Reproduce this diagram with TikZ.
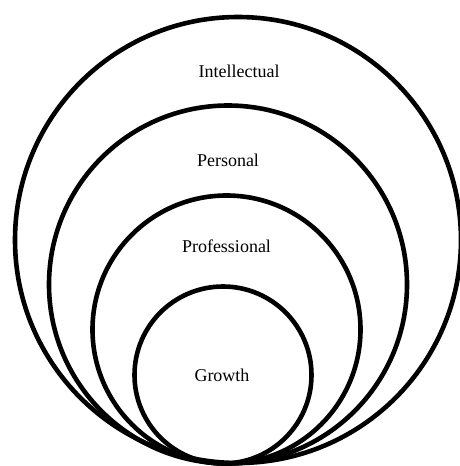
\documentclass[tikz,border=0pt]{standalone}
\usepackage{fontspec}
\setmainfont{Liberation Serif}
\begin{document}
\begin{tikzpicture}[x=1pt,y=-1pt,
  ring/.style={draw=black, circle, line width=4.6pt, inner sep=0pt, outer sep=0pt},
  lbl/.style={anchor=base, inner sep=0pt, font=\fontsize{18}{20}\selectfont}]
\useasboundingbox (0,0) rectangle (460,466);
\fill[white] (0,0) rectangle (460,466);
\node[ring, minimum size=446pt] (c1) at (238,240) {};
\node[ring, minimum size=358pt] (c2) at (228,284.5) {};
\node[ring, minimum size=268pt] (c3) at (226.5,329.5) {};
\node[ring, minimum size=177pt] (c4) at (223,375) {};
\node[lbl] (t1) at (239,77.3) {Intellectual};
\node[lbl] (t2) at (228,166) {Personal};
\node[lbl] (t3) at (226.5,252) {Professional};
\node[lbl] (t4) at (222,381) {Growth};
\end{tikzpicture}
\end{document}
